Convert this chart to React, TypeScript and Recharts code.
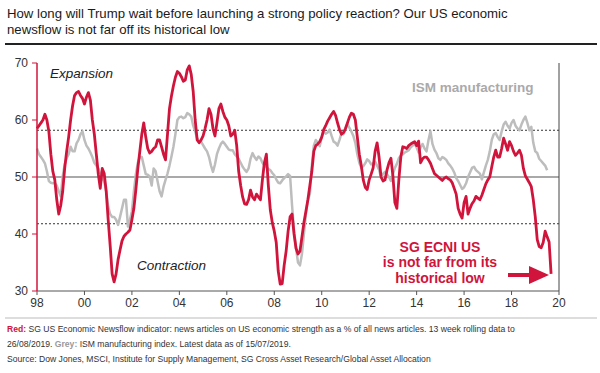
import { LineChart, Line, XAxis, YAxis, ReferenceLine } from "recharts";

const START_YEAR = 1998;
const YEAR_TICKS = [1998, 2000, 2002, 2004, 2006, 2008, 2010, 2012, 2014, 2016, 2018, 2020];
const VALUE_TICKS = [30, 40, 50, 60, 70];
const NEUTRAL = 50;
const BAND_HIGH = 58.2;
const BAND_LOW = 41.8;

// SG ECNI US, monthly from Jan 1998
const ECNI = [
  58.5, 59, 59.5, 60, 61, 60, 58, 54, 51, 49.5, 46, 43.5,
  45, 47.5, 51.5, 54.5, 57, 60, 62.5, 64.3, 64.8, 65, 64.3, 63.8,
  62.8, 64, 64.8, 63.5, 60, 57.5, 54, 50.5, 48, 51.5, 50.6, 47.5,
  42.5, 38, 33, 31.6, 33, 35.5, 37.2, 38.8, 39.6, 40, 40.3, 40.7,
  42.5, 44.5, 47.8, 51.5, 54.5, 57.5, 59.5, 57, 55, 54.2, 54.5, 55,
  55.3, 56.5, 56.5, 55.3, 54, 53, 57.5, 62, 64.2, 66, 67.5, 68.5,
  68.2, 67.6, 66.8, 67, 68.8, 69.5, 68, 65, 60, 56.5, 56, 56.5,
  57.2, 58.5, 60, 62, 61, 58.5, 57.2, 59.5, 62, 62.8, 61.5, 60.5,
  60, 59, 57.2, 57.5, 58.2, 55.5, 51, 48.5, 46.5, 45.3, 45.2, 46,
  47.7, 46.5, 46, 47, 46.5, 46, 49.5, 52.5, 54, 48.5, 44.2, 42,
  40.5, 38.5, 33.5, 31.2, 31.3, 34.5, 37, 40.5, 43, 43.5, 40, 37.5,
  36.5, 37, 39.5, 42, 44, 46, 48.5, 51, 54.5, 55.5, 55.8, 56.2,
  57, 58.3, 59, 59.8, 60.4, 61, 61.5, 60.8, 59.5, 58.3, 57.5, 57.8,
  58.5, 59.5, 60.5, 61.2, 61, 60, 57, 54, 52, 49.5, 48.2, 47.8,
  49.5, 50.5, 51.6, 54.5, 56, 53.5, 50, 49.3, 49.5, 51.2, 52.5, 53.3,
  50.2, 45.5, 44.5, 49.5, 53.5, 55.3, 55.2, 55, 55.5, 55.8, 56, 56.2,
  55.5, 56.3, 52.5, 53.2, 53.5, 53.5, 53, 52.4, 51.5, 50.6, 50.3, 50,
  49.7, 49.4, 49.8, 50, 49.7, 49.5, 49, 48, 47, 44.5, 43.5, 42.8,
  45.5, 46.6, 43.5, 44.5, 45.3, 45.8, 46.6, 46.3, 46, 46.8, 47.8, 48.8,
  49.5, 50, 51.8, 53.5, 54.7, 53.5, 53.5, 55, 56.8, 55.8, 54.7, 56.2,
  55.5, 54.5, 53.8, 54.2, 54.7, 53.8, 51.5, 50.2, 49.6, 49, 48.3, 46,
  43, 39, 37.8, 37.6, 38.5, 40.5, 39.5, 38.6, 33,
];

// ISM manufacturing, monthly from Jan 1998
const ISM = [
  55, 54, 53.5, 53, 52.4, 51, 49.3, 49, 48.9, 48.9, 48.5, 47.5,
  46.6, 50.1, 52.2, 53.3, 54, 55.3, 54.5, 54.5, 55.9, 56.5, 57.5, 58,
  56.5, 55.5, 55, 54.3, 53.5, 52.5, 52, 51.5, 50.5, 49.8, 49.2, 47.5,
  44.8, 43.5, 43, 43, 42.5, 41.6, 43, 44.5, 46, 46, 41.3, 42.5,
  44, 47.5, 50.5, 52.5, 53.5, 53.5, 52, 50.5, 50.4, 50.1, 48.5, 51.5,
  51, 49.2, 47.5, 46.6, 48.3, 49.5, 50.6, 52, 53.6, 55.3, 57.5, 60,
  60.5, 60.6, 60.3, 60.5, 61.2, 61, 60.6, 59, 58, 56.8, 56.3, 56.2,
  55.6, 55, 54.5, 53.5, 52, 50.9, 52.2, 54, 55, 55.8, 56.2, 55.8,
  55.3, 54.8, 54.7, 54.7, 54, 53.6, 53.2, 52.5, 51.8, 51.3, 50.9, 51.5,
  53.2, 54.2, 53.5, 53, 53.6, 53.3, 52.5, 52, 51.8, 51.4, 51.2, 50.7,
  50.3, 49.6, 49, 48.9, 49.4, 49.8, 50.1, 50.5, 50.2, 45, 40.5, 37.5,
  35, 34.5, 36.5, 40, 43.5, 46, 47, 52, 55.5, 56.5, 56, 55.4,
  57, 58, 57.6, 57.8, 58.3, 57.2, 56.2, 56, 55.5, 56.5, 57.7, 57.5,
  58.3, 59.4, 58.6, 58, 57.2, 56, 54, 52.5, 51.6, 51.9, 52.4, 53.1,
  52.8, 52.2, 52.4, 52.7, 52, 51.3, 49.9, 50.6, 50.9, 50.5, 50, 49.3,
  50.5, 51.6, 52.3, 53.3, 53.8, 54, 54.3, 54.5, 54.7, 55.2, 55.5, 55.8,
  55.2, 54.3, 55.2, 55.8, 55, 54.5, 56.5, 58, 55.8, 54.8, 54.2, 53.3,
  53, 53.5, 53.3, 53, 52.4, 52, 51.5, 50.8, 49.8, 49.3, 48.6, 47.9,
  48.2, 48.9, 50, 50.8, 51.6, 51.8, 51.2, 50.9, 50.6, 49.6, 50.8, 52,
  53, 54.5, 56.5, 57.5, 57.7, 57, 56.5, 58, 59.2, 59.7, 59, 58.5,
  59.5, 60, 59, 58.5, 58.2, 59.2, 60, 60.6, 59.5, 58.2, 58.8, 56,
  54.5, 54.2, 53.2, 52.8, 52.4, 52, 51.2,
];

const rows = ECNI.map((v, i) => ({
  t: START_YEAR + i / 12,
  ecni: v,
  ism: i < ISM.length ? ISM[i] : null,
}));

const RED = "#d0143c";
const GREY = "#bdbdbd";
const FONT = "'Liberation Sans', Arial, Helvetica, sans-serif";

export default function App() {
  return (
    <div
      style={{
        position: "absolute",
        left: 0,
        top: 0,
        width: 600,
        height: 373,
        background: "#fff",
        fontFamily: FONT,
      }}
    >
      <LineChart
        width={600}
        height={373}
        data={rows}
        margin={{ top: 63, right: 0, bottom: 52, left: 0 }}
      >
        <XAxis
          dataKey="t"
          type="number"
          domain={[1998, 2020]}
          ticks={YEAR_TICKS}
          tickFormatter={(v: number) => String(v % 100).padStart(2, "0")}
          height={30}
          tick={{ fill: "#333", fontSize: 12, fontFamily: FONT }}
          axisLine={{ stroke: "#555" }}
          tickLine={{ stroke: "#555" }}
          tickSize={4}
          tickMargin={3}
        />
        <YAxis
          yAxisId="l"
          orientation="left"
          domain={[30, 70]}
          ticks={VALUE_TICKS}
          width={37}
          tick={{ fill: "#333", fontSize: 12, fontFamily: FONT }}
          axisLine={{ stroke: RED, strokeWidth: 1.5 }}
          tickLine={{ stroke: RED }}
          tickSize={5}
          tickMargin={4}
        />
        <YAxis
          yAxisId="r"
          orientation="right"
          domain={[30, 70]}
          ticks={VALUE_TICKS}
          width={41}
          tick={{ fill: "#333", fontSize: 12, fontFamily: FONT }}
          axisLine={{ stroke: "#444" }}
          tickLine={{ stroke: "#444" }}
          tickSize={5}
          tickMargin={6}
        />
        <ReferenceLine yAxisId="l" y={NEUTRAL} stroke="#555" strokeWidth={1.2} />
        <ReferenceLine yAxisId="l" y={BAND_HIGH} stroke="#333" strokeDasharray="2 2" />
        <ReferenceLine yAxisId="l" y={BAND_LOW} stroke="#333" strokeDasharray="2 2" />
        <Line
          yAxisId="l"
          dataKey="ism"
          type="linear"
          stroke={GREY}
          strokeWidth={2.5}
          dot={false}
          strokeLinejoin="round"
          connectNulls={false}
          isAnimationActive={false}
        />
        <Line
          yAxisId="l"
          dataKey="ecni"
          type="linear"
          stroke={RED}
          strokeWidth={2.8}
          dot={false}
          strokeLinejoin="round"
          isAnimationActive={false}
        />
      </LineChart>

      {/* titles, notes and the arrow */}
      <svg
        width={600}
        height={373}
        style={{ position: "absolute", left: 0, top: 0, pointerEvents: "none" }}
        fontFamily={FONT}
      >
        <text x={7} y={18} fontSize={13.2} fill="#1a1a1a">
          How long will Trump wait before launching a strong policy reaction? Our US economic
        </text>
        <text x={7} y={34} fontSize={13.2} fill="#1a1a1a">
          newsflow is not far off its historical low
        </text>
        <line x1={5} y1={44} x2={597} y2={44} stroke="#222" strokeWidth={2} />

        <text x={50} y={78} fontSize={13.5} fontStyle="italic" fill="#222">
          Expansion
        </text>
        <text x={137} y={270} fontSize={13.5} fontStyle="italic" fill="#222">
          Contraction
        </text>
        <text x={412} y={92} fontSize={13.5} fontWeight="bold" fill="#aaa">
          ISM manufacturing
        </text>

        <g fontSize={14} fontWeight="bold" fill={RED} textAnchor="middle">
          <text x={440} y={252}>SG ECNI US</text>
          <text x={440} y={267}>is not far from its</text>
          <text x={440} y={283}>historical  low</text>
        </g>
        <line x1={508} y1={275} x2={532} y2={275} stroke={RED} strokeWidth={4} />
        <polygon points="529,266 549,275 529,284" fill={RED} />

        <line x1={5} y1={318} x2={597} y2={318} stroke="#bbb" strokeWidth={1} />
        <g fontSize={8.6} fill="#333">
          <text x={7} y={332}>
            <tspan fill={RED} fontWeight="bold">Red:</tspan>
            <tspan> SG US Economic Newsflow indicator: news articles on US economic strength as a % of all news articles. 13 week rolling data to</tspan>
          </text>
          <text x={7} y={347}>
            <tspan>26/08/2019. </tspan>
            <tspan fill="#999" fontWeight="bold">Grey:</tspan>
            <tspan> ISM manufacturing index. Latest data as of 15/07/2019.</tspan>
          </text>
          <text x={7} y={362}>
            Source: Dow Jones, MSCI, Institute for Supply Management, SG Cross Asset Research/Global Asset Allocation
          </text>
        </g>
      </svg>
    </div>
  );
}
